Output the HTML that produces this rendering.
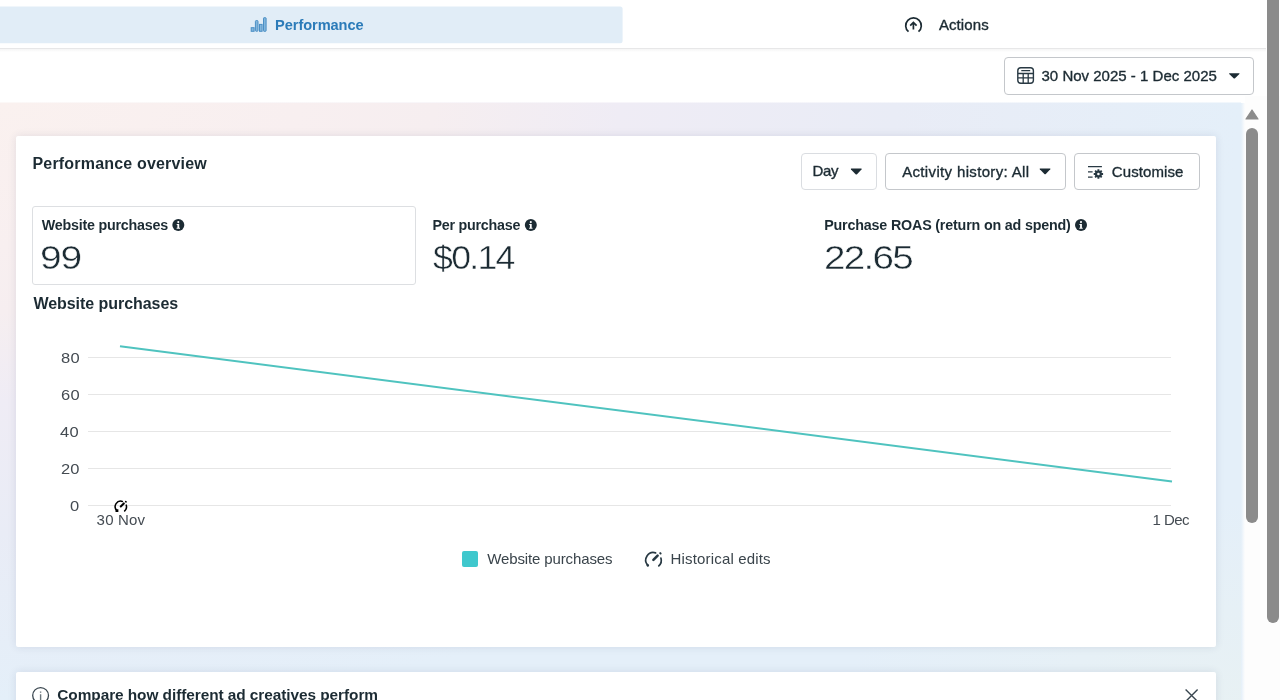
<!DOCTYPE html>
<html><head><meta charset="utf-8"><title>Performance</title>
<style>
*{box-sizing:border-box;margin:0;padding:0}
html,body{width:1280px;height:700px;overflow:hidden;background:#fff;font-family:"Liberation Sans",sans-serif;color:#1c2b33}
.abs{position:absolute}
svg{position:absolute;overflow:visible}
.t{position:absolute;white-space:nowrap;line-height:1}
#tabline{left:0;top:48px;width:1266px;height:4px;background:linear-gradient(180deg,#e7e7e8 0,#e7e7e8 1px,#f6f6f6 1px,#fbfbfb 3px,#fff 4px)}
#bg0{left:0;top:102px;width:1241px;height:1px;background:linear-gradient(90deg,#fcf8f7,#f7f5fa 50%,#f1f7fc)}
#bg{left:0;top:103px;width:1241px;height:597px;background:radial-gradient(farthest-side at 0 0,#faf1ef 0%,#f8eff0 24%,#f6eef0 35%,#efecf5 50%,#e9ecf6 72%,#e4eff9 100%)}
#bgbr{left:841px;top:500px;width:400px;height:200px;background:radial-gradient(farthest-side at 100% 100%,rgba(232,241,243,.9) 0,rgba(232,241,243,0) 100%)}
#bgfade{left:1241px;top:103px;width:4px;height:597px;background:linear-gradient(90deg,#e4eff9,#fdfdfd)}
#card{left:16px;top:136px;width:1200px;height:511px;background:#fff;border-radius:2px;box-shadow:0 0 8px rgba(40,50,80,.11)}
#card2{left:16px;top:672px;width:1200px;height:40px;background:#fff;border-radius:2px;box-shadow:0 0 8px rgba(40,50,80,.11)}
.btn{position:absolute;border:1px solid #c4c7cb;border-radius:4px;background:#fff}
#osb{left:1267px;top:0;width:12px;height:623px;background:#8b8b8b;border-radius:0 0 6px 6px}
#isb{left:1246px;top:128px;width:12px;height:395px;background:#8b8b8b;border-radius:6px}
#sbtrack{left:1245px;top:96px;width:35px;height:604px;background:#fdfdfd}
.grid{position:absolute;left:88px;width:1083px;height:1px;background:#e6e6e6}
</style></head><body>
<svg style="left:0;top:0" width="640" height="50"><rect x="-6" y="6.4" width="628.6" height="36.9" rx="2.5" fill="#e1edf7"/></svg>
<div class="abs" id="tabline"></div>
<div class="btn" style="left:1004px;top:57px;width:250px;height:38px"></div>
<div class="abs" id="sbtrack"></div>
<div class="abs" id="bg0"></div><div class="abs" id="bg"></div><div class="abs" id="bgbr"></div><div class="abs" id="bgfade"></div>
<div class="abs" id="card"></div>
<div class="abs" id="card2"></div>
<div class="abs" id="osb"></div>
<div class="abs" id="isb"></div>
<svg style="left:1244px;top:107px" width="16" height="14"><path d="M2 12 L8 3 L14 12 Z" fill="#8b8b8b" stroke="#8b8b8b" stroke-width="1.2" stroke-linejoin="round"/></svg>
<div class="btn" style="left:801px;top:153px;width:76px;height:37px;border-color:#dadde1"></div>
<div class="btn" style="left:885px;top:153px;width:181px;height:37px"></div>
<div class="btn" style="left:1074px;top:153px;width:126px;height:37px"></div>
<div class="btn" style="left:32px;top:206px;width:384px;height:79px;border-color:#dddfe2;border-radius:3px"></div>
<div class="grid" style="top:357px"></div>
<div class="grid" style="top:394px"></div>
<div class="grid" style="top:431px"></div>
<div class="grid" style="top:468px"></div>
<div class="grid" style="top:505px"></div>
<svg style="left:0;top:0" width="1280" height="700"><line x1="120" y1="346.3" x2="1172" y2="481.5" stroke="#4fc3bf" stroke-width="2"/></svg>
<div class="abs" style="left:462px;top:551px;width:16px;height:16px;border-radius:2px;background:#3fc8cd"></div>
<div class="t" id="t_perf" style="left:275.10px;top:17.84px;font-size:14.6px;font-weight:700;color:#2b7bb9;letter-spacing:-0.075px;">Performance</div>
<div class="t" id="t_act" style="left:938.95px;top:16.50px;font-size:15px;font-weight:400;color:#1c2b33;letter-spacing:0.084px;-webkit-text-stroke:0.35px #1c2b33;">Actions</div>
<div class="t" id="t_date" style="left:1041.50px;top:68.00px;font-size:15px;font-weight:400;color:#1c2b33;letter-spacing:0.011px;-webkit-text-stroke:0.35px #1c2b33;">30 Nov 2025 - 1 Dec 2025</div>
<div class="t" id="t_po" style="left:32.50px;top:156.26px;font-size:16px;font-weight:700;color:#1c2b33;letter-spacing:0.183px;">Performance overview</div>
<div class="t" id="t_day" style="left:812.40px;top:163.30px;font-size:15px;font-weight:400;color:#1c2b33;letter-spacing:-0.250px;-webkit-text-stroke:0.35px #1c2b33;">Day</div>
<div class="t" id="t_ah" style="left:902.15px;top:164.40px;font-size:15px;font-weight:400;color:#1c2b33;letter-spacing:0.348px;-webkit-text-stroke:0.35px #1c2b33;">Activity history: All</div>
<div class="t" id="t_cus" style="left:1111.80px;top:164.40px;font-size:15px;font-weight:400;color:#1c2b33;letter-spacing:0.095px;-webkit-text-stroke:0.35px #1c2b33;">Customise</div>
<div class="t" id="t_wp" style="left:41.70px;top:217.80px;font-size:14.3px;font-weight:700;color:#1c2b33;letter-spacing:-0.221px;">Website purchases</div>
<div class="t" id="t_99" style="left:40.05px;top:241.07px;font-size:33px;font-weight:400;color:#1c2b33;letter-spacing:-1.000px;-webkit-text-stroke:0.45px #fff;transform:scaleX(1.18);transform-origin:0 0;">99</div>
<div class="t" id="t_pp" style="left:432.40px;top:217.80px;font-size:14.3px;font-weight:700;color:#1c2b33;letter-spacing:-0.229px;">Per purchase</div>
<div class="t" id="t_014" style="left:432.80px;top:241.47px;font-size:33px;font-weight:400;color:#1c2b33;letter-spacing:-1.561px;-webkit-text-stroke:0.45px #fff;transform:scaleX(1.08);transform-origin:0 0;">$0.14</div>
<div class="t" id="t_roas" style="left:824.20px;top:217.80px;font-size:14.3px;font-weight:700;color:#1c2b33;letter-spacing:-0.180px;">Purchase ROAS (return on ad spend)</div>
<div class="t" id="t_2265" style="left:823.90px;top:241.47px;font-size:33px;font-weight:400;color:#1c2b33;letter-spacing:-1.497px;-webkit-text-stroke:0.45px #fff;transform:scaleX(1.17);transform-origin:0 0;">22.65</div>
<div class="t" id="t_wph" style="left:33.40px;top:296.06px;font-size:16px;font-weight:700;color:#1c2b33;letter-spacing:-0.047px;">Website purchases</div>
<div class="t" id="t_y80" style="left:60.90px;top:350.10px;font-size:15px;font-weight:400;color:#444b52;letter-spacing:0.250px;transform:scaleX(1.1);transform-origin:0 0;">80</div>
<div class="t" id="t_y60" style="left:60.90px;top:386.70px;font-size:15px;font-weight:400;color:#444b52;letter-spacing:0.250px;transform:scaleX(1.1);transform-origin:0 0;">60</div>
<div class="t" id="t_y40" style="left:60.00px;top:424.30px;font-size:15px;font-weight:400;color:#444b52;letter-spacing:0.250px;transform:scaleX(1.1);transform-origin:0 0;">40</div>
<div class="t" id="t_y20" style="left:61.10px;top:461.30px;font-size:15px;font-weight:400;color:#444b52;letter-spacing:-0.000px;transform:scaleX(1.1);transform-origin:0 0;">20</div>
<div class="t" id="t_y0" style="left:70.40px;top:498.30px;font-size:15px;font-weight:400;color:#444b52;letter-spacing:-0.500px;transform:scaleX(1.1);transform-origin:0 0;">0</div>
<div class="t" id="t_30nov" style="left:96.60px;top:511.90px;font-size:15px;font-weight:400;color:#444b52;letter-spacing:0.200px;">30 Nov</div>
<div class="t" id="t_1dec" style="left:1152.45px;top:511.50px;font-size:15px;font-weight:400;color:#444b52;letter-spacing:-0.504px;">1 Dec</div>
<div class="t" id="t_lwp" style="left:487.20px;top:550.50px;font-size:15px;font-weight:400;color:#3a444b;letter-spacing:-0.125px;">Website purchases</div>
<div class="t" id="t_lhe" style="left:670.55px;top:550.50px;font-size:15px;font-weight:400;color:#3a444b;letter-spacing:0.168px;">Historical edits</div>
<div class="t" id="t_cmp" style="left:57.30px;top:687.16px;font-size:15.4px;font-weight:700;color:#1c2b33;letter-spacing:-0.063px;">Compare how different ad creatives perform</div>
<!-- performance bars icon -->
<svg style="left:0;top:0" width="1280" height="60">
 <g fill="#82b6dc" stroke="#4a8fc5" stroke-width="1">
  <rect x="251.2" y="27.7" width="2.9" height="3.6"/>
  <rect x="255.4" y="20.5" width="2.6" height="10.8" rx="1"/>
  <rect x="259.5" y="24.4" width="2.6" height="6.9"/>
  <rect x="263.5" y="17.7" width="2.6" height="13.6" rx="0.6"/>
 </g>
 <!-- actions icon -->
 <g fill="none" stroke="#1c2b33" stroke-width="1.7" stroke-linecap="butt">
  <path d="M908.5 31.7 A7.8 7.8 0 1 1 918.5 31.7"/>
  <path d="M913.4 29.6 V22.8 M910.2 25.6 L913.4 22.4 L916.6 25.6" stroke-linejoin="miter"/>
 </g>
</svg>
<!-- calendar icon -->
<svg style="left:0;top:50px" width="1280" height="50" viewBox="0 50 1280 50">
 <g fill="none" stroke="#283943" stroke-width="1.4">
  <rect x="1017.8" y="67.7" width="15.6" height="15.6" rx="3"/>
  <path d="M1018 73.5 H1033.4 M1018 77.9 H1033.4 M1023.2 73.5 V83 M1028.2 73.5 V83 M1021.3 70.7 H1030.2" stroke-width="1.3"/>
 </g>
 <path d="M1229.6 73.3 H1239 Q1240 73.3 1239.4 74.1 L1235 78.3 Q1234.3 78.9 1233.6 78.3 L1229.2 74.1 Q1228.6 73.3 1229.6 73.3 Z" fill="#1c2b33"/>
</svg>
<!-- carets + customise icon -->
<svg style="left:0;top:150px" width="1280" height="50" viewBox="0 150 1280 50">
 <path id="car" d="M851.4 168.6 H861.1 Q862.1 168.6 861.5 169.4 L857 174.2 Q856.3 174.9 855.6 174.2 L851 169.4 Q850.4 168.6 851.4 168.6 Z" fill="#1c2b33"/>
 <path d="M1040.2 168.4 H1049.9 Q1050.9 168.4 1050.3 169.2 L1045.8 174 Q1045.1 174.7 1044.4 174 L1039.8 169.2 Q1039.2 168.4 1040.2 168.4 Z" fill="#1c2b33"/>
 <g stroke="#283943" stroke-width="1.3" fill="none">
  <path d="M1088 166.6 H1101.9 M1088 171.8 H1092.6 M1088 177.1 H1092.6"/>
 </g>
 <g transform="translate(1098.4 174)">
  <circle r="2.5" fill="none" stroke="#283943" stroke-width="2.2"/>
  <g stroke="#283943" stroke-width="1.9">
   <path d="M0 -4.7 V4.7 M-4.7 0 H4.7 M-3.3 -3.3 L3.3 3.3 M-3.3 3.3 L3.3 -3.3"/>
  </g>
  <circle r="1.3" fill="#fff"/>
 </g>
</svg>
<!-- info icons -->
<svg style="left:0;top:210px" width="1280" height="30" viewBox="0 210 1280 30">
 <g id="inf1" transform="translate(178.3 225.1)"><circle r="6" fill="#1c2b33"/><circle cx="0" cy="-3" r="1.05" fill="#fff"/><path d="M-1.6 -1.2 H0.9 V2.6 H1.7 V3.6 H-1.7 V2.6 H-0.9 V-0.2 H-1.6 Z" fill="#fff"/></g>
 <g transform="translate(530.8 225.1)"><circle r="6" fill="#1c2b33"/><circle cx="0" cy="-3" r="1.05" fill="#fff"/><path d="M-1.6 -1.2 H0.9 V2.6 H1.7 V3.6 H-1.7 V2.6 H-0.9 V-0.2 H-1.6 Z" fill="#fff"/></g>
 <g transform="translate(1081 225.1)"><circle r="6" fill="#1c2b33"/><circle cx="0" cy="-3" r="1.05" fill="#fff"/><path d="M-1.6 -1.2 H0.9 V2.6 H1.7 V3.6 H-1.7 V2.6 H-0.9 V-0.2 H-1.6 Z" fill="#fff"/></g>
</svg>
<!-- historical edits icons -->
<svg style="left:0;top:490px" width="1280" height="90" viewBox="0 490 1280 90">
 <g transform="translate(653.6 560.3)" fill="none" stroke="#283943" stroke-width="1.7" stroke-linecap="round">
  <path d="M-5.9 4.9 A7.6 7.6 0 0 1 2 -7.4"/>
  <path d="M-6.1 4.6 L-5.7 5.2" stroke-width="2.4"/>
  <path d="M7.3 -2.3 A7.6 7.6 0 0 1 5.2 5.6"/>
  <path d="M6.6 -7.2 L7 -6.8" stroke-width="2"/>
  <path d="M-0.2 -0.4 L4 -4.6" stroke-width="2.6"/>
 </g>
 <g transform="translate(120.9 506.8) scale(0.73)" fill="none" stroke="#000" stroke-width="2.1" stroke-linecap="round">
  <path d="M-5.9 4.9 A7.6 7.6 0 0 1 2 -7.4"/>
  <path d="M7.3 -2.3 A7.6 7.6 0 0 1 5.2 5.6"/>
  <path d="M6.6 -7.2 L7 -6.8" stroke-width="2.2"/>
  <path d="M-0.2 -0.4 L4 -4.6" stroke-width="2.8"/>
  <path d="M-7 3.5 L-3.5 3.5 L-3.5 7 L-7.5 7 Z" fill="#000" stroke="none"/>
 </g>
</svg>
<!-- bottom card icons -->
<svg style="left:0;top:670px" width="1280" height="30" viewBox="0 670 1280 30">
 <circle cx="40.6" cy="695.5" r="7.9" fill="none" stroke="#3a4750" stroke-width="1.3"/>
 <path d="M40.6 691.5 V692.7 M40.6 694.2 V700" stroke="#6a757c" stroke-width="1.4"/>
 <path d="M1185.6 689.4 L1197.6 701.4 M1197.6 689.4 L1185.6 701.4" stroke="#3a4750" stroke-width="1.4"/>
</svg>

</body></html>
